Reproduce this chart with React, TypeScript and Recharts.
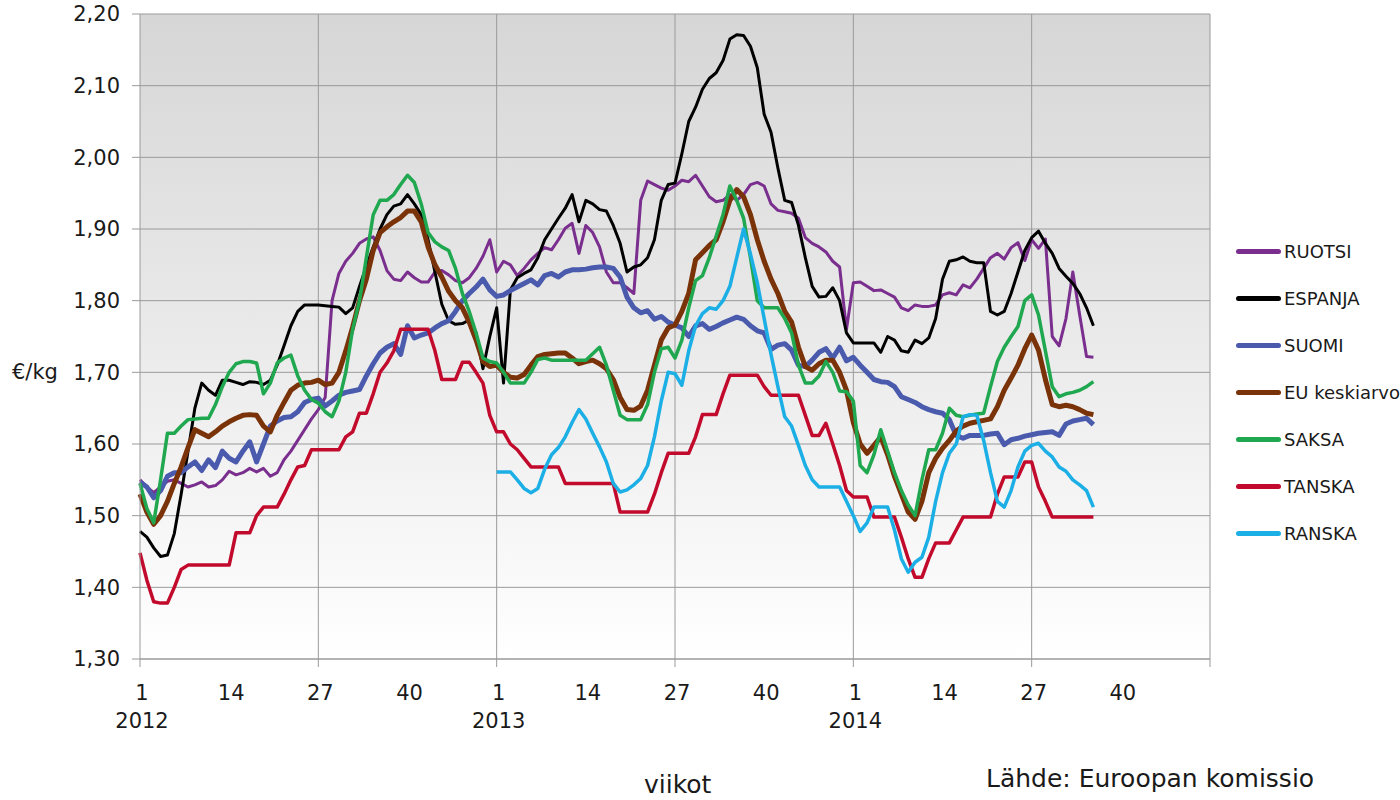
import { LineChart, Line, XAxis, YAxis, CartesianGrid, ReferenceLine, Legend } from "recharts";

// weekly pork price, €/kg, week index 0 = 2012 week 1
const xTicks = [0, 13, 26, 39, 52, 65, 78, 91, 104, 117, 130, 143, 156];
const gridWeeks = [26, 52, 78, 104, 130, 156];
const yTicks = [1.3, 1.4, 1.5, 1.6, 1.7, 1.8, 1.9, 2.0, 2.1, 2.2];
const firstYear = 2012;

const ruotsi = [
  1.55, 1.54, 1.532, 1.54, 1.548, 1.55, 1.545, 1.54, 1.543, 1.547,
  1.54, 1.542, 1.55, 1.562, 1.557, 1.56, 1.566, 1.561, 1.566, 1.555,
  1.56, 1.578, 1.59, 1.605, 1.62, 1.635, 1.648, 1.665, 1.8, 1.838,
  1.855, 1.866, 1.88, 1.886, 1.889, 1.87, 1.842, 1.83, 1.828, 1.84,
  1.832, 1.826, 1.826, 1.84, 1.842, 1.836, 1.828, 1.825, 1.832, 1.845,
  1.862, 1.885, 1.84, 1.855, 1.85, 1.835, 1.845, 1.857, 1.866, 1.874,
  1.871, 1.885, 1.901, 1.908, 1.866, 1.905, 1.895, 1.875, 1.84, 1.825,
  1.825, 1.818, 1.81, 1.94, 1.967, 1.962, 1.957, 1.954, 1.96, 1.968,
  1.966, 1.975, 1.96, 1.945, 1.938, 1.94, 1.948, 1.94, 1.948, 1.962,
  1.965, 1.96, 1.935, 1.926, 1.924, 1.922, 1.915, 1.888, 1.88, 1.875,
  1.868, 1.855, 1.847, 1.76, 1.825, 1.826, 1.82, 1.814, 1.815, 1.81,
  1.805, 1.79, 1.786, 1.794, 1.792, 1.792, 1.794, 1.808, 1.811, 1.808,
  1.822, 1.818, 1.83, 1.845, 1.86, 1.866, 1.858, 1.874, 1.881, 1.856,
  1.885, 1.873, 1.886, 1.75, 1.737, 1.775, 1.84, 1.78, 1.722, 1.721,
];

const espanja = [
  1.478, 1.47, 1.455, 1.443, 1.445, 1.475, 1.53, 1.59, 1.65, 1.685,
  1.675, 1.668, 1.689, 1.689, 1.686, 1.683, 1.687, 1.686, 1.683, 1.689,
  1.71, 1.737, 1.765, 1.785, 1.794, 1.794, 1.794, 1.793, 1.792, 1.791,
  1.782, 1.79, 1.82, 1.848, 1.875, 1.9, 1.92, 1.932, 1.935, 1.948,
  1.935, 1.92, 1.885, 1.84, 1.795, 1.772, 1.767, 1.768, 1.773, 1.755,
  1.705, 1.75, 1.79, 1.685, 1.815, 1.832, 1.838, 1.843, 1.86, 1.885,
  1.9, 1.915, 1.929, 1.948, 1.91, 1.94, 1.935, 1.927, 1.925, 1.905,
  1.88, 1.84, 1.847, 1.85, 1.86, 1.885, 1.94, 1.962, 1.964, 2.005,
  2.05, 2.07, 2.095, 2.11, 2.118, 2.135, 2.165, 2.171, 2.17, 2.155,
  2.125, 2.06, 2.035, 1.985, 1.94, 1.937, 1.905, 1.86, 1.82, 1.805,
  1.806, 1.818, 1.8, 1.755, 1.741, 1.741, 1.741, 1.741, 1.728, 1.75,
  1.745, 1.73, 1.728, 1.745, 1.74, 1.748, 1.775, 1.83, 1.855, 1.857,
  1.861, 1.855, 1.853, 1.853, 1.785, 1.78, 1.785, 1.81, 1.84, 1.87,
  1.888, 1.897, 1.88, 1.866, 1.845, 1.834, 1.824, 1.81, 1.79, 1.765,
];

const suomi = [
  1.547, 1.54, 1.525, 1.535, 1.555, 1.56, 1.56, 1.568, 1.575, 1.563,
  1.578, 1.567, 1.59, 1.58, 1.575, 1.59, 1.603, 1.575, 1.6, 1.625,
  1.632, 1.637, 1.638, 1.645, 1.658, 1.662, 1.664, 1.653, 1.66, 1.668,
  1.672, 1.674, 1.676, 1.695, 1.712, 1.727, 1.735, 1.74, 1.725, 1.765,
  1.748, 1.752, 1.755, 1.762, 1.768, 1.772, 1.785, 1.8, 1.81, 1.819,
  1.83, 1.815, 1.806, 1.808, 1.814, 1.819, 1.824, 1.829, 1.822, 1.835,
  1.838, 1.833, 1.84, 1.843, 1.843, 1.844, 1.846, 1.847, 1.847, 1.845,
  1.833, 1.805, 1.79, 1.783, 1.786, 1.774, 1.778, 1.77, 1.766, 1.762,
  1.75, 1.765, 1.768, 1.76, 1.764, 1.769, 1.773, 1.777, 1.774, 1.765,
  1.758, 1.755, 1.732, 1.738, 1.74, 1.731, 1.71, 1.708, 1.717, 1.728,
  1.733, 1.72, 1.735, 1.716, 1.721, 1.71, 1.7, 1.69, 1.687, 1.686,
  1.68, 1.666, 1.662, 1.658, 1.652, 1.648, 1.645, 1.643, 1.634, 1.612,
  1.608, 1.612, 1.612, 1.612, 1.614, 1.615, 1.599, 1.606, 1.608, 1.611,
  1.613, 1.615, 1.616, 1.617, 1.612, 1.628, 1.632, 1.634, 1.636, 1.627,
];

const euKeskiarvo = [
  1.53, 1.505, 1.488, 1.5, 1.52, 1.545, 1.568, 1.595, 1.62, 1.615,
  1.61, 1.617, 1.625, 1.631, 1.636, 1.64, 1.641, 1.64, 1.625, 1.617,
  1.64, 1.658, 1.675, 1.682, 1.685, 1.686, 1.689, 1.683, 1.685, 1.7,
  1.73, 1.763, 1.8, 1.83, 1.87, 1.895, 1.903, 1.91, 1.916, 1.925,
  1.925, 1.91, 1.875, 1.85, 1.833, 1.813, 1.8, 1.79, 1.77, 1.745,
  1.715, 1.708, 1.71, 1.7, 1.693, 1.692, 1.697, 1.71, 1.722, 1.725,
  1.726, 1.727, 1.727, 1.72, 1.712, 1.715, 1.717, 1.712, 1.705, 1.69,
  1.665, 1.648, 1.647, 1.653, 1.675, 1.71, 1.745, 1.762, 1.766, 1.785,
  1.81, 1.857, 1.867, 1.877, 1.885, 1.91, 1.94, 1.955, 1.945, 1.92,
  1.885, 1.855, 1.83, 1.81, 1.785, 1.77, 1.735, 1.708, 1.703, 1.712,
  1.717, 1.717, 1.7, 1.675, 1.63, 1.6, 1.587, 1.598, 1.61, 1.585,
  1.555, 1.53, 1.505, 1.495, 1.52, 1.56, 1.58, 1.594, 1.605, 1.618,
  1.625, 1.629, 1.631, 1.633, 1.635, 1.652, 1.675, 1.692, 1.71, 1.733,
  1.752, 1.731, 1.69, 1.655, 1.652, 1.654, 1.652, 1.648, 1.643, 1.641,
];

const saksa = [
  1.545, 1.51, 1.49, 1.55, 1.615, 1.615, 1.625, 1.634, 1.635, 1.636,
  1.636, 1.655, 1.68, 1.7, 1.712, 1.715, 1.715, 1.713, 1.67, 1.685,
  1.713, 1.72, 1.724, 1.695, 1.675, 1.662, 1.657, 1.645, 1.638, 1.66,
  1.7, 1.76, 1.8, 1.86, 1.92, 1.94, 1.94, 1.948, 1.962, 1.975,
  1.965, 1.935, 1.895, 1.882, 1.875, 1.87, 1.845, 1.81, 1.785, 1.755,
  1.72, 1.715, 1.713, 1.7, 1.685, 1.685, 1.685, 1.7, 1.718, 1.72,
  1.717, 1.717, 1.717, 1.717, 1.717, 1.717, 1.726, 1.735, 1.71, 1.675,
  1.64, 1.634, 1.634, 1.634, 1.655, 1.7, 1.733, 1.735, 1.72, 1.745,
  1.79, 1.828, 1.835, 1.86, 1.89, 1.92, 1.96, 1.94, 1.915, 1.86,
  1.8, 1.79, 1.79, 1.79, 1.775, 1.755, 1.71, 1.685, 1.685, 1.695,
  1.715, 1.7, 1.674, 1.673, 1.66, 1.57, 1.56, 1.585, 1.62, 1.59,
  1.56, 1.535, 1.515, 1.5, 1.55, 1.592, 1.592, 1.615, 1.65, 1.64,
  1.638, 1.64, 1.642, 1.643, 1.68, 1.715, 1.735, 1.75, 1.764, 1.8,
  1.808, 1.78, 1.73, 1.68, 1.666, 1.67, 1.672, 1.675, 1.68, 1.687,
];

const tanska = [
  1.448, 1.41, 1.38, 1.378, 1.378, 1.4, 1.425, 1.431, 1.431, 1.431,
  1.431, 1.431, 1.431, 1.431, 1.476, 1.476, 1.476, 1.5, 1.512, 1.512,
  1.512, 1.53, 1.55, 1.568, 1.57, 1.592, 1.592, 1.592, 1.592, 1.592,
  1.61, 1.617, 1.643, 1.643, 1.67, 1.7, 1.713, 1.73, 1.76, 1.76,
  1.76, 1.76, 1.76, 1.73, 1.69, 1.69, 1.69, 1.714, 1.714, 1.7,
  1.685, 1.64, 1.617, 1.617, 1.6, 1.592, 1.58, 1.568, 1.568, 1.568,
  1.568, 1.568, 1.545, 1.545, 1.545, 1.545, 1.545, 1.545, 1.545, 1.545,
  1.505, 1.505, 1.505, 1.505, 1.505, 1.53, 1.56, 1.587, 1.587, 1.587,
  1.587, 1.61, 1.641, 1.641, 1.641, 1.67, 1.696, 1.696, 1.696, 1.696,
  1.696, 1.68, 1.668, 1.668, 1.668, 1.668, 1.668, 1.64, 1.612, 1.612,
  1.629, 1.6, 1.57, 1.535, 1.526, 1.526, 1.526, 1.498, 1.498, 1.498,
  1.498, 1.47, 1.44, 1.414, 1.414, 1.44, 1.462, 1.462, 1.462, 1.48,
  1.498, 1.498, 1.498, 1.498, 1.498, 1.53, 1.554, 1.554, 1.554, 1.575,
  1.575, 1.54, 1.52, 1.498, 1.498, 1.498, 1.498, 1.498, 1.498, 1.498,
];

// France only from 2013 week 1
const ranskaStart = 52;
const ranska = [
  1.561, 1.561, 1.561, 1.55, 1.538, 1.532, 1.538, 1.565,
  1.585, 1.595, 1.61, 1.63, 1.648, 1.635, 1.615, 1.596, 1.575, 1.545,
  1.533, 1.536, 1.543, 1.552, 1.57, 1.61, 1.66, 1.7, 1.698, 1.682,
  1.73, 1.765, 1.782, 1.79, 1.788, 1.8, 1.82, 1.86, 1.9, 1.865,
  1.825, 1.775, 1.725, 1.68, 1.638, 1.625, 1.598, 1.57, 1.55, 1.54,
  1.54, 1.54, 1.54, 1.52, 1.5, 1.478, 1.49, 1.512, 1.512, 1.512,
  1.48, 1.44, 1.421, 1.435, 1.442, 1.47, 1.52, 1.56, 1.587, 1.6,
  1.638, 1.641, 1.64, 1.605, 1.56, 1.52, 1.512, 1.535, 1.568, 1.59,
  1.598, 1.601, 1.59, 1.582, 1.568, 1.562, 1.55, 1.543, 1.535, 1.512,
];

const series = [
  { key: "ruotsi", name: "RUOTSI", color: "#7A2E8E", width: 3, values: ruotsi, start: 0 },
  { key: "espanja", name: "ESPANJA", color: "#000000", width: 3, values: espanja, start: 0 },
  { key: "suomi", name: "SUOMI", color: "#4A5BAE", width: 5, values: suomi, start: 0 },
  { key: "eu", name: "EU keskiarvo", color: "#7A3208", width: 5, values: euKeskiarvo, start: 0 },
  { key: "saksa", name: "SAKSA", color: "#20A850", width: 3.5, values: saksa, start: 0 },
  { key: "tanska", name: "TANSKA", color: "#C20A2C", width: 3.5, values: tanska, start: 0 },
  { key: "ranska", name: "RANSKA", color: "#1BAFE6", width: 3.5, values: ranska, start: ranskaStart },
];

const weekCount = 140;
const data = Array.from({ length: weekCount }, (_, i) => {
  const row: Record<string, number | null> = { i };
  series.forEach((s) => {
    const v = s.values[i - s.start];
    row[s.key] = v === undefined ? null : v;
  });
  return row;
});

const gridColor = "#9a9a9a";
const font = "'DejaVu Sans', Verdana, sans-serif";

const WeekTick = ({ x, y, payload }: any) => {
  const i = payload.value;
  const week = (i % 52) + 1;
  const year = i % 52 === 0 ? firstYear + i / 52 : null;
  const last = i === xTicks[xTicks.length - 1];
  return (
    <g>
      {i % 26 === 0 && <line x1={x} x2={x} y1={y} y2={y + 8} stroke={gridColor} />}
      {!last && (
        <text x={x + 2} y={y + 41} textAnchor="middle" fontSize={21} fontFamily={font} fill="#1a1a1a">
          {week}
        </text>
      )}
      {year && !last && (
        <text x={x + 2} y={y + 69} textAnchor="middle" fontSize={21} fontFamily={font} fill="#1a1a1a">
          {year}
        </text>
      )}
    </g>
  );
};

const SeriesLegend = () => (
  <div style={{ fontFamily: font, fontSize: 18, color: "#1a1a1a" }}>
    {series.map((s) => (
      <div key={s.key} style={{ display: "flex", alignItems: "center", height: 47 }}>
        <span
          style={{
            display: "inline-block",
            width: 45,
            height: 5,
            borderRadius: 3,
            background: s.color,
            marginRight: 3,
          }}
        />
        <span>{s.name}</span>
      </div>
    ))}
  </div>
);

export default function App() {
  return (
    <div style={{ position: "absolute", left: 0, top: 0, width: 1400, height: 800, background: "#fff", fontFamily: font }}>
      <LineChart width={1400} height={800} data={data} margin={{ top: 14, right: 190, bottom: 81, left: 80 }}>
        <defs>
          <linearGradient id="plotBg" x1="0" y1="0" x2="0" y2="1">
            <stop offset="0%" stopColor="#d6d6d6" />
            <stop offset="55%" stopColor="#ececec" />
            <stop offset="100%" stopColor="#ffffff" />
          </linearGradient>
        </defs>
        <CartesianGrid vertical={false} stroke={gridColor} fill="url(#plotBg)" fillOpacity={1} />
        <XAxis
          dataKey="i"
          type="number"
          domain={[0, 156]}
          ticks={xTicks}
          interval={0}
          height={60}
          tickSize={0}
          tickMargin={0}
          tickLine={false}
          axisLine={{ stroke: gridColor }}
          tick={<WeekTick />}
        />
        <YAxis
          type="number"
          domain={[1.3, 2.2]}
          ticks={yTicks}
          interval={0}
          width={60}
          tickSize={8}
          tickMargin={12}
          tickLine={{ stroke: gridColor }}
          axisLine={{ stroke: gridColor }}
          tick={{ fontSize: 21, fontFamily: font, fill: "#1a1a1a" }}
          tickFormatter={(v: number) => v.toFixed(2).replace(".", ",")}
        />
        {gridWeeks.map((w) => (
          <ReferenceLine key={w} x={w} stroke={gridColor} strokeWidth={1} />
        ))}
        {series.map((s) => (
          <Line
            key={s.key}
            type="linear"
            dataKey={s.key}
            name={s.name}
            stroke={s.color}
            strokeWidth={s.width}
            strokeLinejoin="round"
            dot={false}
            activeDot={false}
            isAnimationActive={false}
          />
        ))}
        <Legend
          layout="vertical"
          align="center"
          verticalAlign="middle"
          wrapperStyle={{ left: 1236, top: 228, width: 164 }}
          content={() => <SeriesLegend />}
        />
      </LineChart>
      <div style={{ position: "absolute", left: 12, top: 360, fontSize: 21, color: "#1a1a1a" }}>€/kg</div>
      <div style={{ position: "absolute", left: 644, top: 772, fontSize: 25, color: "#1a1a1a", lineHeight: 1 }}>viikot</div>
      <div style={{ position: "absolute", left: 986, top: 766, fontSize: 25, color: "#1a1a1a", lineHeight: 1 }}>
        Lähde: Euroopan komissio
      </div>
    </div>
  );
}
